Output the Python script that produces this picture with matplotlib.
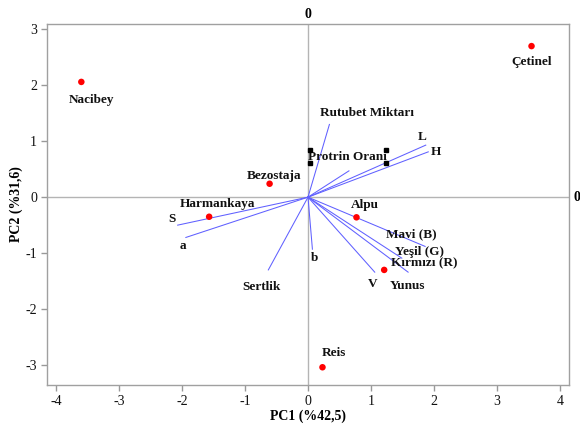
import matplotlib
matplotlib.use("Agg")
import matplotlib.pyplot as plt
from matplotlib.transforms import offset_copy

plt.rcParams['font.family'] = ['Liberation Serif', 'DejaVu Serif']

# Genotype scores
genotypes = ["Nacibey", "Çetinel", "Bezostaja", "Harmankaya", "Alpu", "Yunus", "Reis"]
geno_pc1 = [-3.60, 3.55, -0.61, -1.57, 0.77, 1.21, 0.23]
geno_pc2 = [2.06, 2.70, 0.24, -0.35, -0.36, -1.30, -3.04]

# Trait loadings
traits = ["Rutubet Miktarı", "Protrin Oranı", "L", "H", "S", "a", "Sertlik", "b",
          "Mavi (B)", "Yeşil (G)", "Kırmızı (R)", "V"]
trait_pc1 = [0.34, 0.65, 1.87, 1.91, -2.07, -1.94, -0.63, 0.07, 1.86, 1.49, 1.59, 1.06]
trait_pc2 = [1.30, 0.47, 0.93, 0.81, -0.50, -0.72, -1.30, -0.93, -0.88, -1.09, -1.34, -1.34]

x_ticks = [-4, -3, -2, -1, 0, 1, 2, 3, 4]
y_ticks = [-3, -2, -1, 0, 1, 2, 3]

# label offsets in pixels (dx right, dy down)
geno_off = [(10.5, 17.7), (0, 16), (4, -8), (8, -13), (8, -12), (23.5, 16), (11, -14)]
trait_off = [(37.7, -11.3), (-1.5, -14), (-4, -8.3), (7.7, 0.6), (-5.6, -5.7), (-2.7, 8.3),
             (-7.3, 16.7), (2, 9), (-14, -11.7), (18, -6.3), (16, -9.3), (-1.7, 12.3)]

fig = plt.figure(figsize=(5.8, 4.29), dpi=100)
ax = fig.add_axes([46.7 / 580, 1 - 385 / 429, (569.3 - 46.7) / 580, (385 - 24) / 429])
ax.set_xlim(-4.15, 4.15)
ax.set_ylim(-3.357, 3.095)

ax.axhline(0, color='#b4b4b4', lw=1.0, zorder=1)
ax.axvline(0, color='#b4b4b4', lw=1.0, zorder=1)

px2pt = 0.72
for x, y, name, (dx, dy) in zip(trait_pc1, trait_pc2, traits, trait_off):
    ax.plot([0, x], [0, y], color='#6060ff', lw=0.75, zorder=2)
    ax.annotate(name, (x, y), xytext=(dx * px2pt, -dy * px2pt), textcoords='offset points',
                ha='center', va='center', fontsize=9.5, fontweight='bold', color='#111111', zorder=4)

ax.scatter(geno_pc1, geno_pc2, s=22, color='#ff0000', zorder=3, edgecolors='none')
for x, y, name, (dx, dy) in zip(geno_pc1, geno_pc2, genotypes, geno_off):
    ax.annotate(name, (x, y), xytext=(dx * px2pt, -dy * px2pt), textcoords='offset points',
                ha='center', va='center', fontsize=9.5, fontweight='bold', color='#111111', zorder=4)

# selection handles around "Protrin Oranı"
pidx = traits.index("Protrin Oranı")
for hx, hy in [(-38.5, -21), (-38.5, -7.5), (37.5, -21), (37.5, -7.5)]:
    tr = offset_copy(ax.transData, fig=fig, x=hx * px2pt, y=-hy * px2pt, units='points')
    ax.plot([trait_pc1[pidx]], [trait_pc2[pidx]], marker='s', ms=3.2, color='black',
            transform=tr, zorder=5, clip_on=False)

ax.set_xticks(x_ticks)
ax.set_yticks(y_ticks)
ax.set_xticklabels([str(t) for t in x_ticks])
ax.set_yticklabels([str(t) for t in y_ticks])
ax.tick_params(axis='both', direction='out', length=4, width=1, color='#999999',
               labelsize=10, pad=3, labelcolor='#111111')
for sp in ax.spines.values():
    sp.set_color('#a0a0a0')
    sp.set_linewidth(1.0)

ax.set_xlabel("PC1 (%42,5)", fontsize=10, fontweight='bold', labelpad=1)
ax.set_ylabel("PC2 (%31,6)", fontsize=10, fontweight='bold', labelpad=2)

ax.annotate("0", (0, 1), xycoords=('data', 'axes fraction'), xytext=(0, 7),
            textcoords='offset points', ha='center', va='center', fontsize=10, fontweight='bold')
ax.annotate("0", (1, 0), xycoords=('axes fraction', 'data'), xytext=(5.5, 0),
            textcoords='offset points', ha='center', va='center', fontsize=10, fontweight='bold')

fig.savefig("out.png", dpi=100)
